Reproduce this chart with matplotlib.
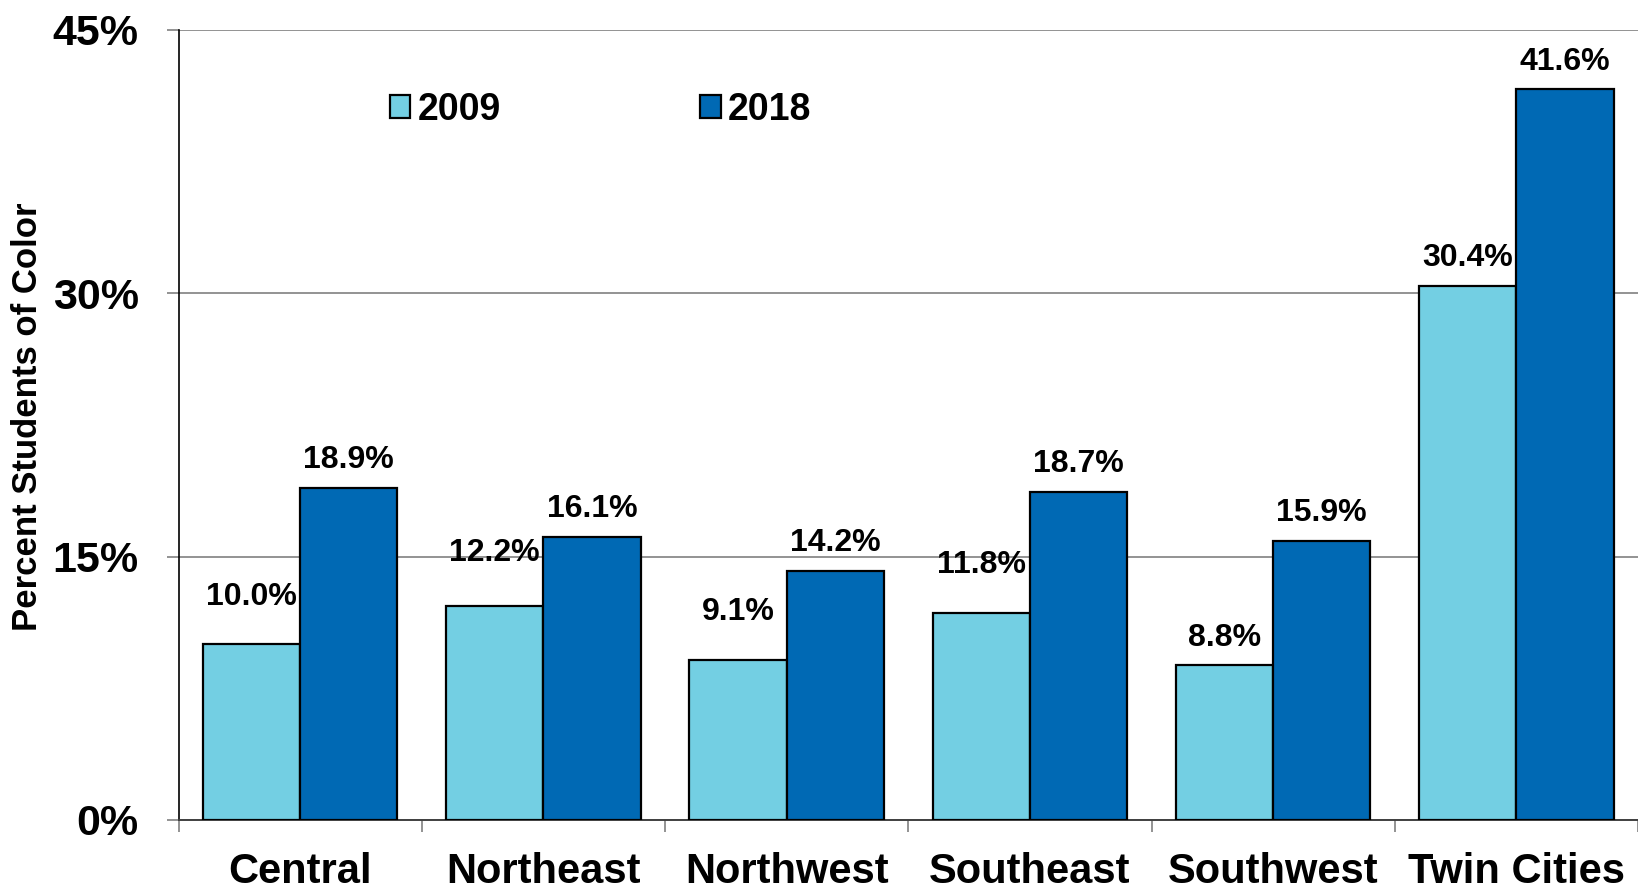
import matplotlib.pyplot as plt
from matplotlib.patches import Rectangle
import numpy as np

# data
regions = ["Central", "Northeast", "Northwest", "Southeast", "Southwest", "Twin Cities"]
pct_2009 = [10.0, 12.2, 9.1, 11.8, 8.8, 30.4]
pct_2018 = [18.9, 16.1, 14.2, 18.7, 15.9, 41.6]
yticks = [0, 15, 30, 45]
ytick_labels = ["0%", "15%", "30%", "45%"]

# label offsets above bars (points), 2009 labels sit at uneven heights in the original
pad_2009 = [34, 38, 35, 34, 20, 20]
pad_2018 = [20, 20, 20, 20, 20, 20]

LIGHT = "#73CFE3"
DARK = "#0069B4"

plt.rcParams['font.family'] = ['Liberation Sans', 'DejaVu Sans']
plt.rcParams['font.weight'] = 'bold'

fig = plt.figure(figsize=(16.38, 8.93), dpi=100)
ax = fig.add_axes([0.109, 0.0818, 0.891, 0.885])

x = np.arange(len(regions))
w = 0.4
ax.bar(x - w / 2, pct_2009, w, color=LIGHT, edgecolor="black", linewidth=1.6, zorder=3)
ax.bar(x + w / 2, pct_2018, w, color=DARK, edgecolor="black", linewidth=1.6, zorder=3)

for i in range(len(regions)):
    ax.annotate(f"{pct_2009[i]:.1f}%", (x[i] - w / 2, pct_2009[i]), xytext=(0, pad_2009[i]),
                textcoords="offset points", ha="center", va="center", fontsize=23, fontweight="bold")
    ax.annotate(f"{pct_2018[i]:.1f}%", (x[i] + w / 2, pct_2018[i]), xytext=(0, pad_2018[i]),
                textcoords="offset points", ha="center", va="center", fontsize=23, fontweight="bold")

ax.set_xlim(-0.5, len(regions) - 0.5)
ax.set_ylim(0, 45)
ax.set_yticks(yticks)
ax.set_yticklabels(ytick_labels, fontsize=31, fontweight="bold")
ax.yaxis.grid(True, color="#808080", linewidth=1.2, zorder=0)
ax.tick_params(axis="y", length=8.6, width=1.2, color="#808080", pad=20)

ax.set_xticks(x)
ax.set_xticklabels(regions, fontsize=30, fontweight="bold")
ax.tick_params(axis="x", which="major", length=0, pad=23)
ax.set_xticks(np.arange(len(regions) + 1) - 0.5, minor=True)
ax.tick_params(axis="x", which="minor", length=8.6, width=1.2, color="#808080")

for s in ["top", "right"]:
    ax.spines[s].set_visible(False)
ax.spines["left"].set_color("black")
ax.spines["left"].set_linewidth(1.2)
ax.spines["bottom"].set_color("#404040")
ax.spines["bottom"].set_linewidth(1.4)

ax.set_ylabel("Percent Students of Color", fontsize=25, fontweight="bold")
ax.yaxis.set_label_coords(-0.092, 0.51)

handles = [Rectangle((0, 0), 1, 1, facecolor=LIGHT, edgecolor="black", linewidth=1.6),
           Rectangle((0, 0), 1, 1, facecolor=DARK, edgecolor="black", linewidth=1.6)]
fig.legend(handles, ["2009", "2018"], loc="center left", bbox_to_anchor=(0.238, 0.877),
           ncol=2, frameon=False, prop={"weight": "bold", "size": 27},
           handlelength=0.55, handleheight=0.55, handletextpad=0.2, columnspacing=5.3,
           borderpad=0, borderaxespad=0)

fig.savefig("out.png", dpi=100)
